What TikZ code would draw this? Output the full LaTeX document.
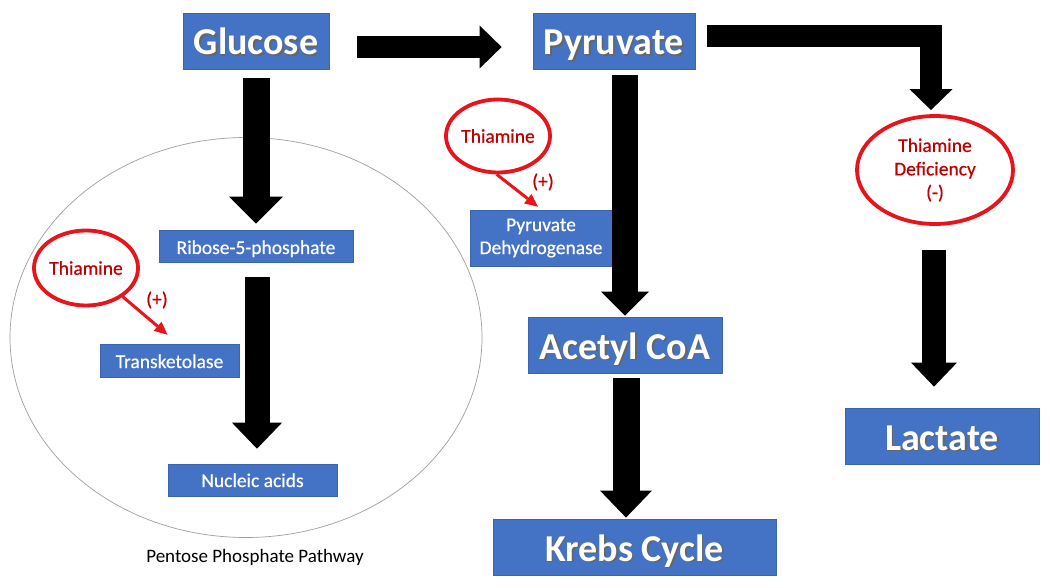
\documentclass[tikz,border=0pt]{standalone}
\usepackage{fontspec}
\setmainfont{Carlito}
\usetikzlibrary{arrows.meta,shapes.geometric,calc}
\definecolor{boxblue}{HTML}{4472C4}
\definecolor{boxedge}{HTML}{3A64B0}
\definecolor{ringred}{HTML}{E8141B}
\definecolor{redtxt}{HTML}{C00000}
\newcommand\shd[1]{\makebox[0pt][l]{\hspace{1.6pt}\raisebox{-1.6pt}{\textcolor{black!60}{#1}}}#1}
\begin{document}
\begin{tikzpicture}[x=1pt,y=-1pt,
 bigbox/.style={fill=boxblue,draw=boxedge,line width=0.8pt,text=white,inner sep=0pt,minimum height=56pt,font=\fontsize{38}{40}\selectfont\bfseries,text height=28pt,text depth=0pt},
 smallbox/.style={fill=boxblue,draw=boxedge,line width=0.6pt,text=white,inner sep=0pt,font=\fontsize{19.5}{23}\selectfont\addfontfeatures{FakeBold=0.6}},
 ring/.style={ellipse,draw=ringred,line width=3.8pt,inner sep=0pt,text=redtxt,font=\fontsize{19.5}{23.5}\selectfont\addfontfeatures{FakeBold=0.6},align=center},
 redlbl/.style={text=redtxt,font=\fontsize{19.5}{23}\selectfont\addfontfeatures{FakeBold=0.6},inner sep=0pt},
 blk/.style n args={3}{draw=black,line width=#1pt,-{Triangle[length=#3pt,width=#2pt,line width=0pt]}},
 redarr/.style={draw=ringred,line width=3pt,-{Triangle[length=13pt,width=12pt,line width=0pt]}}
]
\useasboundingbox (0,0) rectangle (1050,588);
\fill[white] (0,0) rectangle (1050,588);
\draw[gray!75,line width=0.7pt] (246,337.5) ellipse [x radius=236pt,y radius=200pt];

\node[bigbox,minimum width=146pt] (glucose) at (256,41) {\shd{Glucose}};
\node[bigbox,minimum width=162pt] (pyruvate) at (614,41) {\shd{Pyruvate}};
\node[bigbox,minimum width=194pt] (acetyl) at (625,345) {\shd{Acetyl CoA}};
\node[bigbox,minimum width=283pt] (krebs) at (634.5,547) {\shd{Krebs Cycle}};
\node[bigbox,minimum width=194pt] (lactate) at (942,436) {\shd{Lactate}};
\node[smallbox,minimum width=194pt,minimum height=32pt,text height=16pt,text depth=0pt] (ribose) at (256,246) {Ribose-5-phosphate};
\node[smallbox,minimum width=139pt,minimum height=33pt,text height=15pt,text depth=0pt] (tk) at (169.5,360.5) {Transketolase};
\node[smallbox,minimum width=169pt,minimum height=32pt,text height=14pt,text depth=0pt] (nucleic) at (252.5,480) {Nucleic acids};
\node[smallbox,minimum width=142pt,minimum height=56pt,align=center] (pdh) at (541,238) {Pyruvate\\Dehydrogenase};

\node[ring,minimum width=104pt,minimum height=75pt] (th1) at (86,268) {Thiamine};
\node[ring,minimum width=104pt,minimum height=73pt] (th2) at (498,136) {Thiamine};
\node[ring,minimum width=156pt,minimum height=108pt] (th3) at (935,170) {Thiamine\\Deficiency\\(-)};

\node[redlbl] (p1) at (157,300) {(+)};
\node[redlbl] (p2) at (543,182) {(+)};
\node[font=\fontsize{19}{23}\selectfont,inner sep=0pt] (cap) at (255,557) {Pentose Phosphate Pathway};

\draw[blk={22}{43}{22}] ($(glucose.east)+(28,6)$) -- ($(pyruvate.west)+(-31,6)$);
\draw[blk={27}{54}{27}] ($(glucose.south)+(0,9)$) -- ($(ribose.north)+(0,-6)$);
\draw[blk={25}{50}{26}] ($(ribose.south)+(1,15)$) -- ($(ribose.south |- nucleic.north)+(1,-15)$);
\draw[blk={26}{48}{24}] ($(acetyl.north |- pyruvate.south)+(0,6)$) -- ($(acetyl.north)+(0,-1)$);
\draw[blk={27}{52}{27}] ($(acetyl.south)+(1,5)$) -- ($(krebs.north -| acetyl.south)+(1,-1)$);
\draw[blk={22}{43}{21},line join=miter] ($(pyruvate.east)+(12,-5)$) -| ($(th3.north)+(-4,-4)$);
\draw[blk={24}{46}{24}] ($(th3.south)+(-1,24)$) -- ($(th3.south |- lactate.north)+(-1,-21)$);

\draw[redarr] (th1.-38) -- ($(tk.north)+(-2,-9)$);
\draw[redarr] (th2.-92) -- ($(pdh.north)+(-3,-3)$);
\end{tikzpicture}
\end{document}
